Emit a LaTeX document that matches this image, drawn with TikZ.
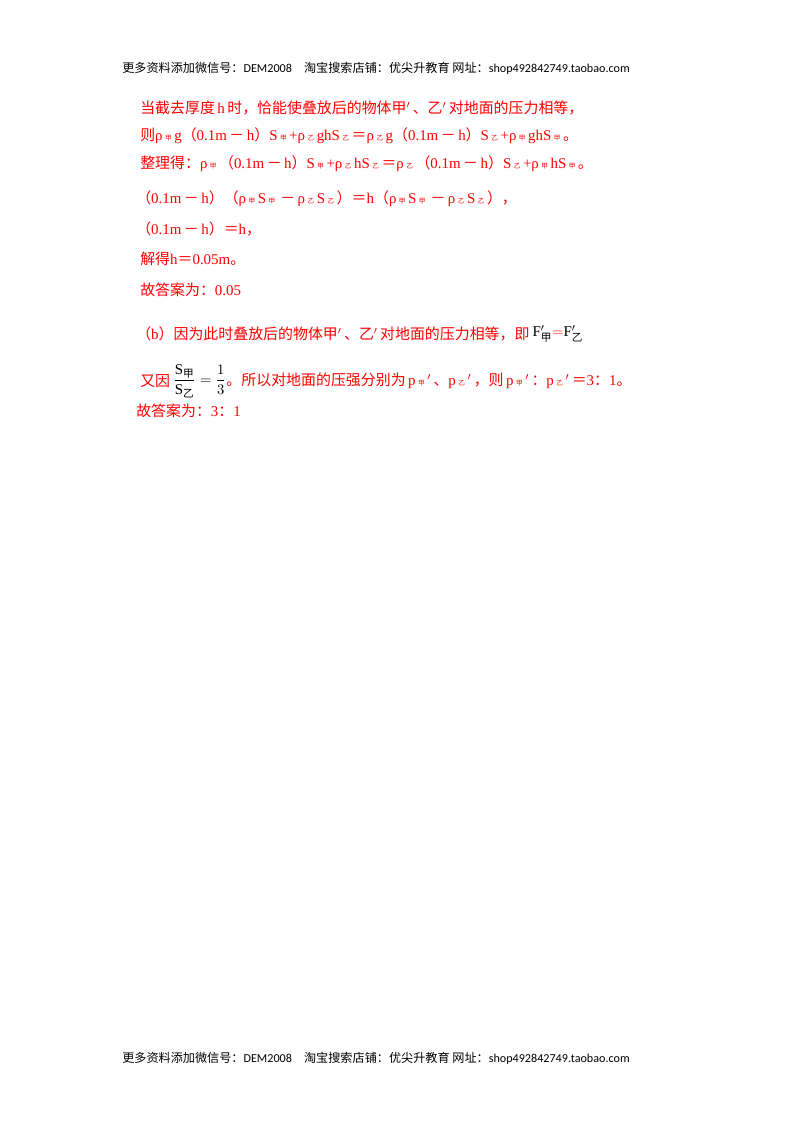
\documentclass[tikz,border=0pt]{standalone}
\usepackage{amsmath}
\usepackage{fontspec}
\setmainfont{Liberation Serif}
\newfontfamily\cjk{Noto Sans CJK SC}
\newfontfamily\hdr{Carlito}
\definecolor{ansred}{RGB}{255,0,0}
\newcommand{\zh}[1]{{\cjk #1}}
\newcommand{\sub}[1]{\,{\cjk\tiny #1}\,}
\newcommand{\mn}{\,{\cjk －}\,}
\newcommand{\eq}{{\cjk ＝}}
\begin{document}
\begin{tikzpicture}[x=0.75pt,y=-0.75pt,
  line/.style={anchor=west,inner sep=0pt,text=ansred,font=\fontsize{11.2}{13}\selectfont},
  head/.style={anchor=center,inner sep=0pt,font=\fontsize{9.1}{10}\selectfont}]
\useasboundingbox (0,0) rectangle (800,1132);
% 页眉页脚
\node[head] (top) at (376,68) {\zh{更多资料添加微信号：}{\hdr DEM2008}\quad\zh{淘宝搜索店铺：优尖升教育\ 网址：}{\hdr shop492842749.taobao.com}};
\node[head] (bottom) at (376,1058) {\zh{更多资料添加微信号：}{\hdr DEM2008}\quad\zh{淘宝搜索店铺：优尖升教育\ 网址：}{\hdr shop492842749.taobao.com}};
% 解答
\node[line] (l1) at (140,108) {\zh{当截去厚度}\,h\,\zh{时，恰能使叠放后的物体甲}$'$\,\zh{、乙}$'$\,\zh{对地面的压力相等，}};
\node[line] (l2) at (140,136) {\zh{则}ρ\sub{甲}g\zh{（}0.1m\mn h\zh{）}S\sub{甲}+ρ\sub{乙}ghS\sub{乙}\eq ρ\sub{乙}g\zh{（}0.1m\mn h\zh{）}S\sub{乙}+ρ\sub{甲}ghS\sub{甲}\zh{。}};
\node[line] (l3) at (140,164) {\zh{整理得：}ρ\sub{甲}\zh{（}0.1m\mn h\zh{）}S\sub{甲}+ρ\sub{乙}hS\sub{乙}\eq ρ\sub{乙}\zh{（}0.1m\mn h\zh{）}S\sub{乙}+ρ\sub{甲}hS\sub{甲}\zh{。}};
\node[line] (l4) at (136,199) {\zh{（}0.1m\mn h\zh{）（}ρ\sub{甲}S\sub{甲}\mn ρ\sub{乙}S\sub{乙}\zh{）}\eq h\zh{（}ρ\sub{甲}S\sub{甲}\mn ρ\sub{乙}S\sub{乙}\zh{），}};
\node[line] (l5) at (136,229) {\zh{（}0.1m\mn h\zh{）}\eq h\zh{，}};
\node[line] (l6) at (140,259) {\zh{解得}h\eq 0.05m\zh{。}};
\node[line] (l7) at (140,290) {\zh{故答案为：}0.05};
\node[line] (l8) at (136,334) {\zh{（}b\zh{）因为此时叠放后的物体甲}$'$\,\zh{、乙}$'$\,\zh{对地面的压力相等，即}};
\node[line,text=black] (feq) at (l8.east) {\,F$'_{\mbox{\zh{\footnotesize 甲}}}$\textcolor{ansred}{$=$}F$'_{\mbox{\zh{\footnotesize 乙}}}$};
\node[line] (l9) at (140,381) {\zh{又因}};
\node[line,text=black] (frac) at (l9.east) {\,$\dfrac{\mathrm{S}_{\mbox{\zh{\footnotesize 甲}}}}{\mathrm{S}_{\mbox{\zh{\footnotesize 乙}}}}=\dfrac{1}{3}$};
\node[line] (l9b) at (frac.east) {\zh{。所以对地面的压强分别为}\,p\sub{甲}$'$\,\zh{、}p\sub{乙}$'$\,\zh{，则}\,p\sub{甲}$'$\,\zh{：}p\sub{乙}$'$\,\eq 3\zh{：}1\zh{。}};
\node[line] (l10) at (136,411) {\zh{故答案为：}3\zh{：}1};
\end{tikzpicture}
\end{document}
